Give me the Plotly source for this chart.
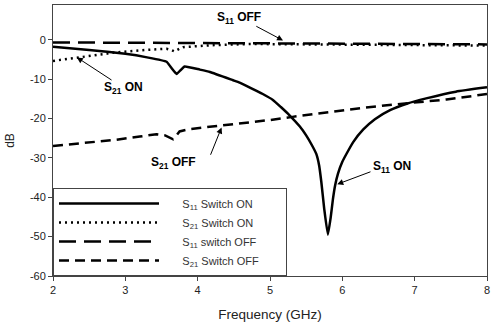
import plotly.graph_objects as go

# ---- data ----
s11_on_f = [2.0, 2.5, 3.0, 3.3, 3.57, 3.63, 3.71, 3.76, 3.82, 4.03, 4.17, 4.49, 4.58, 4.75, 4.9, 5.04,
            5.15, 5.27, 5.41, 5.5, 5.58, 5.64, 5.68, 5.71, 5.75, 5.80, 5.84, 5.87, 5.90, 5.94, 6.0, 6.06,
            6.15, 6.29, 6.45, 6.66, 6.9, 7.16, 7.57, 8.0]
s11_on_db = [-1.8, -2.6, -3.6, -4.5, -5.6, -7.0, -8.7, -7.8, -6.8, -7.6, -8.2, -10.3, -10.9, -12.4, -13.8, -15.3,
             -17.1, -19.2, -22.0, -24.3, -26.8, -29.0, -32.0, -36.2, -43.0, -49.5, -45.0, -40.5, -37.0, -34.0, -31.0, -28.9,
             -26.0, -22.8, -20.2, -17.9, -16.2, -14.9, -13.2, -12.1]

s21_on_f = [2.0, 2.37, 2.88, 3.3, 3.57, 3.63, 3.68, 3.75, 3.80, 4.2, 4.72, 5.5, 6.5, 7.5, 8.0]
s21_on_db = [-5.4, -4.4, -3.2, -2.6, -2.3, -2.6, -3.0, -2.3, -1.9, -1.4, -1.1, -1.2, -1.3, -1.4, -1.5]

s11_off_f = [2.0, 3.0, 4.0, 5.0, 6.0, 7.0, 8.0]
s11_off_db = [-0.7, -0.75, -0.8, -0.9, -1.0, -1.1, -1.2]

s21_off_f = [2.0, 2.4, 2.88, 3.2, 3.43, 3.55, 3.66, 3.70, 3.75, 3.89, 4.35, 4.67, 5.0, 5.31, 5.87,
             6.3, 6.8, 7.44, 8.0]
s21_off_db = [-27.0, -26.3, -25.4, -24.6, -24.0, -24.3, -25.3, -24.5, -23.3, -22.7, -21.8, -21.2, -20.4,
              -19.6, -18.2, -17.3, -16.3, -15.2, -13.8]

legend_names = ["S<sub>11</sub> Switch ON", "S<sub>21</sub> Switch ON",
                "S<sub>11</sub> switch OFF", "S<sub>21</sub> Switch OFF"]

x_ticks = [2, 3, 4, 5, 6, 7, 8]
y_ticks = [0, -10, -20, -30, -40, -50, -60]

FONT = "Liberation Sans, Arial, sans-serif"
PAD = "\u00a0" * 6
TAIL = "\u00a0" * 7


def lname(s):
    return PAD + s + TAIL


fig = go.Figure()
fig.add_trace(go.Scatter(x=s11_on_f, y=s11_on_db, mode="lines", name=lname(legend_names[0]),
                         line=dict(color="black", width=2.5, dash="solid", shape="spline", smoothing=0.4)))
fig.add_trace(go.Scatter(x=s21_on_f, y=s21_on_db, mode="lines", name=lname(legend_names[1]),
                         line=dict(color="black", width=2.5, dash="2px,4px")))
fig.add_trace(go.Scatter(x=s11_off_f, y=s11_off_db, mode="lines", name=lname(legend_names[2]),
                         line=dict(color="black", width=2.5, dash="17px,8px")))
fig.add_trace(go.Scatter(x=s21_off_f, y=s21_off_db, mode="lines", name=lname(legend_names[3]),
                         line=dict(color="black", width=2.5, dash="10px,6px")))

# annotations: labels and arrows
labels = [
    ("S<sub>11</sub> OFF", 4.57, 5.4),
    ("S<sub>21</sub> ON", 2.98, -12.3),
    ("S<sub>21</sub> OFF", 3.66, -31.2),
    ("S<sub>11</sub> ON", 6.69, -32.2),
]
for t, xx, yy in labels:
    fig.add_annotation(x=xx, y=yy, text="<b>" + t + "</b>", showarrow=False,
                       font=dict(family=FONT, size=12, color="black"))

arrows = [
    (5.18, -0.2, 4.79, 3.6),
    (2.33, -4.5, 2.83, -10.5),
    (4.33, -22.3, 4.17, -29.6),
    (5.93, -36.7, 6.41, -33.4),
]
for hx, hy, tx, ty in arrows:
    fig.add_annotation(x=hx, y=hy, ax=tx, ay=ty, axref="x", ayref="y", text="",
                       showarrow=True, arrowhead=2, arrowsize=1.2, arrowwidth=1, arrowcolor="black")

fig.update_layout(
    width=496, height=324,
    margin=dict(l=53, r=9, t=4, b=47),
    paper_bgcolor="white", plot_bgcolor="white",
    font=dict(family=FONT, size=11, color="#222"),
    showlegend=True,
    legend=dict(x=0, y=0, xanchor="left", yanchor="bottom",
                bgcolor="white", bordercolor="#444", borderwidth=1,
                itemwidth=100, font=dict(family=FONT, size=11, color="#333"),
                tracegroupgap=0),
    xaxis=dict(range=[2, 8], tickvals=x_ticks, ticktext=[str(v) for v in x_ticks],
               showgrid=False, zeroline=False, showline=True, linecolor="#444", linewidth=1,
               mirror=True, ticks="outside", ticklen=4, tickcolor="#444",
               title=dict(text="Frequency (GHz)", font=dict(family=FONT, size=13.5, color="#222"), standoff=14)),
    yaxis=dict(range=[-60, 8.8], tickvals=y_ticks, ticktext=[str(v) for v in y_ticks],
               showgrid=False, zeroline=False, showline=True, linecolor="#444", linewidth=1,
               mirror=True, ticks="outside", ticklen=4, tickcolor="#444",
               title=dict(text="dB", font=dict(family=FONT, size=12, color="#222"), standoff=12)),
)

fig.write_html("out.html")
